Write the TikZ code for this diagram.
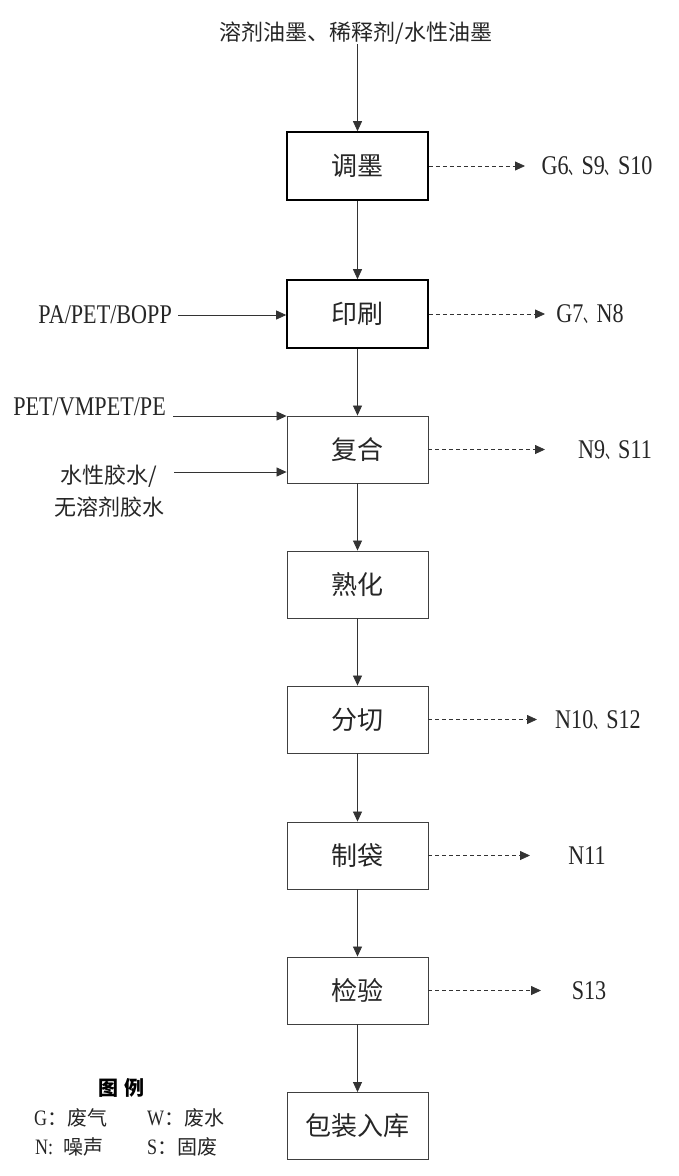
\documentclass[tikz,border=0pt]{standalone}
\usepackage{fontspec}
\setmainfont{Liberation Serif}[FakeStretch=0.82]
\newfontfamily\cjk{Noto Sans CJK SC}
\usetikzlibrary{arrows.meta}
\newcommand\dn{\scalebox{0.62}[1]{\cjk\fontsize{21}{21}\selectfont 、}}
\newcommand\legc{\cjk\fontsize{20}{20}\selectfont}
\begin{document}
\begin{tikzpicture}[x=1pt,y=-1pt,
  box/.style={draw=black!75, line width=0.9pt, minimum width=141pt, minimum height=67pt, inner sep=0pt, font=\cjk\fontsize{26}{26}\selectfont, text=black!85},
  tbox/.style={box, draw=black, line width=1.6pt, minimum height=68pt},
  arr/.style={draw=black!80, line width=0.8pt, -{Triangle[length=10pt,width=9pt]}},
  darr/.style={arr, dash pattern=on 4pt off 3pt},
  lat/.style={font=\fontsize{27}{27}\selectfont, inner sep=0pt, text=black!85},
  cj/.style={font=\cjk\fontsize{22}{32}\selectfont, inner sep=0pt, text=black!85},
  leg/.style={font=\fontsize{22}{22}\selectfont, inner sep=0pt, text=black!85},
]
\useasboundingbox (0,0) rectangle (678,1176);
\fill[white] (0,0) rectangle (678,1176);

% main chain
\node[tbox] (tm)  at (357.5,166)  {调墨};
\node[tbox] (yin) at (357.5,314)  {印刷};
\node[box]  (fh)  at (357.5,449.5) {复合};
\node[box]  (sh)  at (357.5,584.5) {熟化};
\node[box]  (fq)  at (357.5,719.5) {分切};
\node[box]  (zd)  at (357.5,855.5) {制袋};
\node[box]  (jy)  at (357.5,990.5) {检验};
\node[box]  (bz)  at (357.5,1126)  {包装入库};

% source
\node[cj] (src) at (356,33) {溶剂油墨、稀释剂/水性油墨};
\draw[arr] (src.south -| tm.north) -- (tm.north);

\draw[arr] (tm.south) -- (yin.north);
\draw[arr] (yin.south) -- (fh.north);
\draw[arr] (fh.south) -- (sh.north);
\draw[arr] (sh.south) -- (fq.north);
\draw[arr] (fq.south) -- (zd.north);
\draw[arr] (zd.south) -- (jy.north);
\draw[arr] (jy.south) -- (bz.north);

% inputs
\node[lat, anchor=east] (pa) at (172,315) {PA/PET/BOPP};
\draw[arr] ([xshift=6pt]pa.east) coordinate (p0) -- (p0 -| yin.west);

\node[lat, anchor=east] (pet) at (166,407) {PET/VMPET/PE};
\draw[arr] ([xshift=7pt,yshift=-9pt]pet.east) coordinate (p1) -- (p1 -| fh.west);

\node[cj, align=center] (glue) at (109,491) {水性胶水/\\无溶剂胶水};
\draw[arr] ([xshift=10pt,yshift=19pt]glue.east) coordinate (p2) -- (p2 -| fh.west);

% outputs
\node[lat] (o1) at (597,166) {G6\dn S9\dn S10};
\coordinate (e1) at (525,166);
\draw[darr] (tm.east) -- (e1);

\node[lat] (o2) at (590,314) {G7\dn N8};
\coordinate (e2) at (545,314);
\draw[darr] (yin.east) -- (e2);

\node[lat] (o3) at (615,450) {N9\dn S11};
\coordinate (e3) at (545,449.5);
\draw[darr] (fh.east) -- (e3);

\node[lat] (o4) at (598,720) {N10\dn S12};
\coordinate (e4) at (537,719.5);
\draw[darr] (fq.east) -- (e4);

\node[lat] (o5) at (587,855.5) {N11};
\coordinate (e5) at (530,855.5);
\draw[darr] (zd.east) -- (e5);

\node[lat] (o6) at (589,990.5) {S13};
\coordinate (e6) at (541,990.5);
\draw[darr] (jy.east) -- (e6);

% legend
\node[font=\cjk\bfseries\fontsize{20}{20}\selectfont, inner sep=0pt] (lt) at (121,1088) {图\hspace{6pt}例};
\node[leg, anchor=west] (lg) at (34,1118) {G{\legc ：废气}};
\node[leg, anchor=west] (lw) at (147,1118) {W{\legc ：废水}};
\node[leg, anchor=west] (ln) at (35,1147) {N:\hspace{10pt}{\legc 噪声}};
\node[leg, anchor=west] (ls) at (147,1147) {S{\legc ：固废}};
\end{tikzpicture}
\end{document}
